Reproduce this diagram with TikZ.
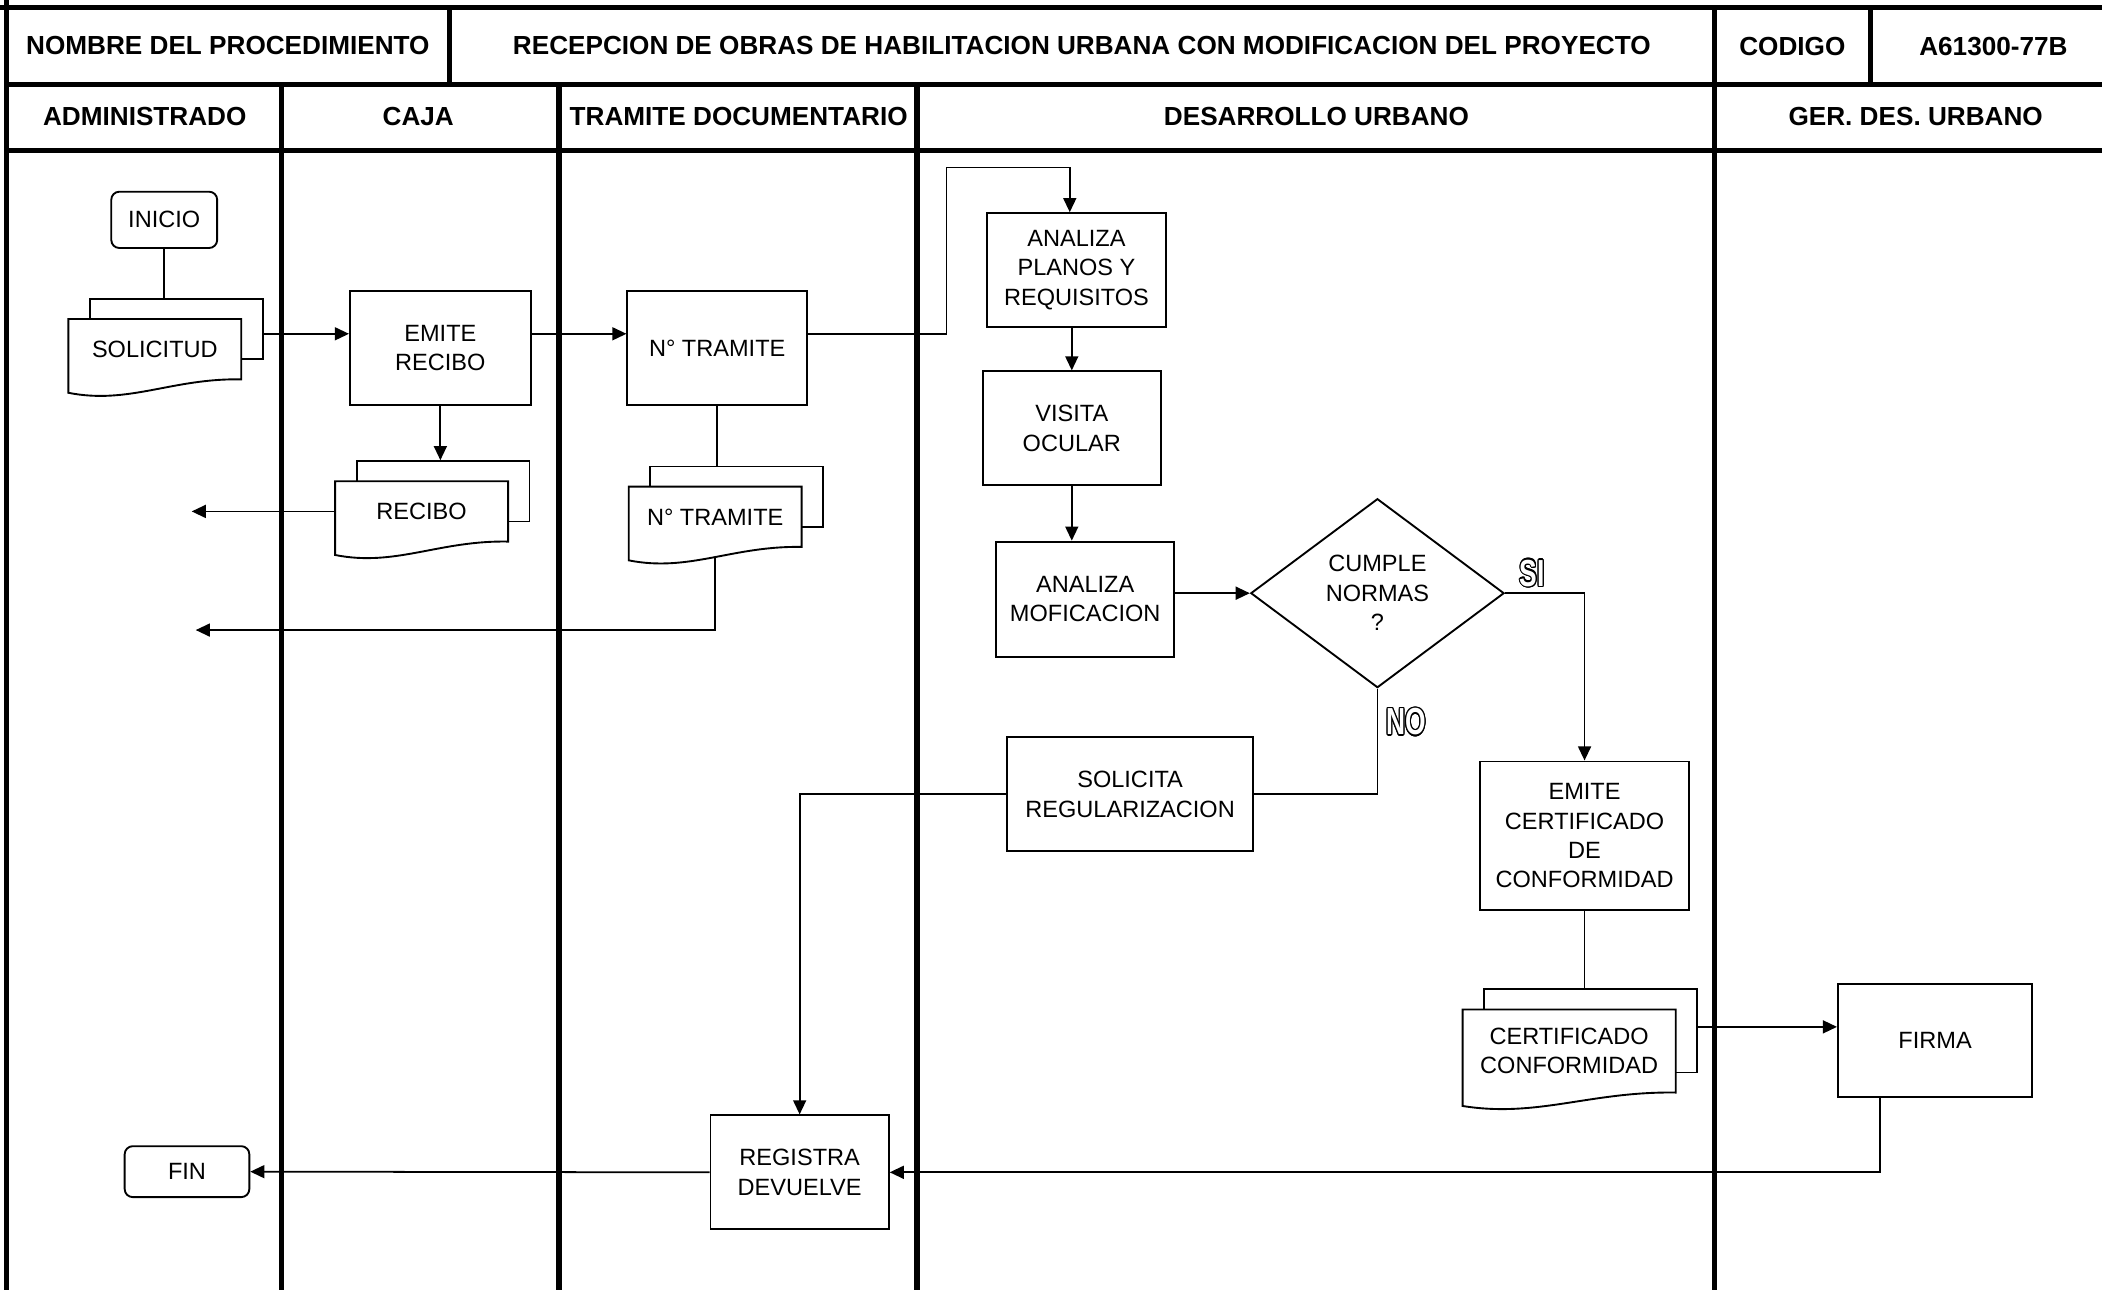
\documentclass[tikz,border=0pt]{standalone}
\usepackage{fontspec}
\setmainfont{Liberation Sans}
\usepackage{graphicx}
\usepackage{contour}
\contourlength{0.6pt}
\usetikzlibrary{arrows.meta,shapes.geometric}

\tikzset{
  carril/.style={line width=2.2pt},
  titulo/.style={font=\fontsize{11.1}{13}\selectfont\bfseries},
  caja/.style={draw, line width=0.8pt, align=center, inner sep=1pt, font=\fontsize{10}{12.5}\selectfont},
  terminal/.style={caja, rounded corners=0.12cm},
  decision/.style={caja, diamond, inner sep=0pt},
  hoja/.style={caja, fill=white},
  hojatxt/.style={align=center, inner sep=0pt, font=\fontsize{10}{12.5}\selectfont},
  linea/.style={line width=0.75pt},
  flecha/.style={linea, -{Triangle[length=6pt,width=5.5pt]}},
  siono/.style={text=white, font=\fontsize{16}{16}\selectfont\bfseries},
}

% documento multiple: nombre, x, y, ancho, alto, texto
\newcommand{\documento}[6]{%
  \node[hoja, minimum width=#4*0.02cm, minimum height=#5*0.02cm] (#1-b) at (#2+16,#3-15) {};
  \draw[line width=0.8pt, fill=white] ({#2-#4/2},{#3-#5/2}) -- ++(#4,0) -- ++(0,#5)
    .. controls +({-0.4*#4},-1) and +({0.35*#4},9) .. ({#2-#4/2},{#3+#5/2+10}) -- cycle;
  \node[hojatxt, minimum width=#4*0.02cm, minimum height=#5*0.02cm] (#1) at (#2,#3) {#6};
}

\begin{document}
\begin{tikzpicture}[x=0.02cm, y=-0.02cm]
  \useasboundingbox (0,0) rectangle (1568,962);

  % cuadro y carriles
  \draw[carril] (0,5.5) -- (1568,5.5);
  \draw[carril] (5,0) -- (5,962);
  \draw[carril] (5,63) -- (1568,63);
  \draw[carril] (5,112) -- (1568,112);
  \foreach \x in {335,1395} \draw[carril] (\x,5.5) -- (\x,63);
  \foreach \x in {210,417,684} \draw[carril] (\x,63) -- (\x,962);
  \draw[carril] (1279,5.5) -- (1279,962);

  \node[titulo] (nombre) at (170,34) {NOMBRE DEL PROCEDIMIENTO};
  \node[titulo] (proc) at (807,34) {RECEPCION DE OBRAS DE HABILITACION URBANA CON MODIFICACION DEL PROYECTO};
  \node[titulo] (codigo) at (1337,35) {CODIGO};
  \node[titulo] (cod) at (1487,35) {A61300-77B};
  \node[titulo] (adm) at (108,87) {ADMINISTRADO};
  \node[titulo] (caja) at (312,87) {CAJA};
  \node[titulo] (tdoc) at (551,87) {TRAMITE DOCUMENTARIO};
  \node[titulo] (du) at (982,87) {DESARROLLO URBANO};
  \node[titulo] (gdu) at (1429,87) {GER. DES. URBANO};

  % nodos
  \node[terminal, minimum width=1.58cm, minimum height=0.84cm] (inicio) at (122.5,164) {INICIO};
  \documento{sol}{115.5}{260.5}{129}{45}{SOLICITUD}
  \node[caja, minimum width=2.7cm, minimum height=1.7cm] (emite) at (328.5,259.5) {EMITE\\RECIBO};
  \documento{recibo}{314.5}{381.5}{129}{45}{RECIBO}
  \node[caja, minimum width=2.68cm, minimum height=1.7cm] (tramite) at (535,259.5) {N° TRAMITE};
  \documento{tramdoc}{533.5}{385.5}{129}{45}{N° TRAMITE}
  \node[caja, minimum width=2.68cm, minimum height=1.7cm] (analiza) at (803,201.5) {ANALIZA\\PLANOS Y\\REQUISITOS};
  \node[caja, minimum width=2.66cm, minimum height=1.7cm] (visita) at (799.5,319.5) {VISITA\\OCULAR};
  \node[caja, minimum width=2.66cm, minimum height=1.72cm] (modif) at (809.5,447) {ANALIZA\\MOFICACION};
  \node[decision, minimum width=3.78cm, minimum height=2.82cm] (cumple) at (1027.5,442.5) {CUMPLE\\NORMAS\\?};
  \node[caja, minimum width=3.68cm, minimum height=1.7cm] (solicita) at (843,592.5) {SOLICITA\\REGULARIZACION};
  \node[caja, minimum width=3.12cm, minimum height=2.22cm] (emitecert) at (1182,623.5) {EMITE\\CERTIFICADO\\DE\\CONFORMIDAD};
  \documento{cert}{1170.5}{784}{159}{62}{CERTIFICADO\\CONFORMIDAD}
  \node[caja, minimum width=2.9cm, minimum height=1.68cm] (firma) at (1443.5,776) {FIRMA};
  \node[caja, minimum width=2.66cm, minimum height=1.7cm] (registra) at (596.5,874.5) {REGISTRA\\DEVUELVE};
  \node[terminal, minimum width=1.86cm, minimum height=0.76cm] (fin) at (139.5,874) {FIN};

  \node[siono] (si) at (1143,428) {\scalebox{0.7}[1]{\contour{black}{SI}}};
  \node[siono] (no) at (1049,539) {\scalebox{0.7}[1]{\contour{black}{NO}}};

  \coordinate (sal1) at (143,381.5);
  \coordinate (sal2) at (146,470);
  \coordinate (codo) at (706,125);
  \coordinate (fila1) at (0,249);
  \coordinate (fila2) at (0,766);

  % conectores
  \draw[linea] (inicio.south) -- (inicio.south |- sol-b.north);
  \draw[flecha] (sol-b.east |- fila1) -- (emite.west |- fila1);
  \draw[flecha] (emite.south) -- (emite.south |- recibo-b.north);
  \draw[flecha] (recibo.west) -- (sal1);
  \draw[flecha] (emite.east |- fila1) -- (tramite.west |- fila1);
  \draw[flecha] (tramite.east |- fila1) -| (codo) -| ([xshift=-0.1cm]analiza.north);
  \draw[linea] (tramite.south) -- (tramite.south |- tramdoc-b.north);
  \draw[flecha] ([yshift=-4pt]tramdoc.south) |- (sal2);
  \draw[flecha] (visita.north |- analiza.south) -- (visita.north);
  \draw[flecha] (visita.south) -- (visita.south |- modif.north);
  \draw[flecha] (modif.east |- cumple.west) -- (cumple.west);
  \draw[flecha] (cumple.east) -| (emitecert.north);
  \draw[linea] (cumple.south) |- (solicita.east);
  \draw[flecha] (solicita.west) -| (registra.north);
  \draw[linea] (emitecert.south) -- (emitecert.south |- cert-b.north);
  \draw[flecha] (cert-b.east |- fila2) -- (firma.west |- fila2);
  \draw[flecha] ([xshift=-0.82cm]firma.south) |- (registra.east);
  \draw[flecha] (registra.west) -- (fin.east);
\end{tikzpicture}
\end{document}
